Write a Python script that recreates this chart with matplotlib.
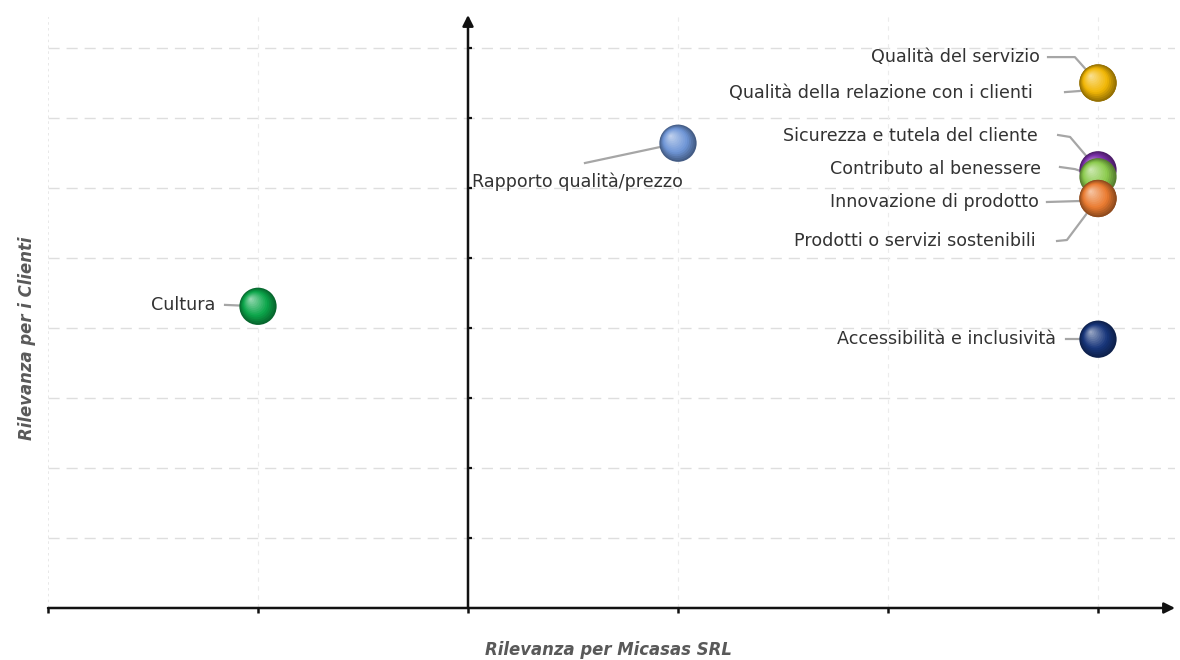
import numpy as np
import matplotlib.pyplot as plt
from matplotlib.colors import to_rgb

# topics (x = relevance for company, y = relevance for clients)
topics = ["Cultura", "Rapporto qualità/prezzo", "Sicurezza e tutela del cliente",
          "Contributo al benessere", "Prodotti o servizi sostenibili",
          "Innovazione di prodotto", "Accessibilità e inclusività",
          "Qualità della relazione con i clienti", "Qualità del servizio"]
x_vals = [1, 3, 5, 5, 5, 5, 5, 5, 5]
y_vals = [4.31, 6.64, 6.26, 6.16, 5.85, 5.85, 3.84, 7.5, 7.5]
colors = ["#0BA64A", "#6E95D6", "#7A2FA8", "#8CCB4E", "#E8782F",
          "#EA7B30", "#17357A", "#F2B705", "#F2B705"]

# label position (data coords) and leader line elbows (data coords)
label_xy = [(0.795, 4.33), (2.019, 6.09), (4.714, 6.74), (4.729, 6.27), (4.705, 5.25),
            (4.719, 5.80), (4.80, 3.84), (4.69, 7.36), (4.724, 7.87)]
label_ha = ["right", "left", "right", "right", "right", "right", "right", "right", "right"]
elbows = [[(0.843, 4.33)],
          [(2.557, 6.357)],
          [(4.810, 6.757), (4.867, 6.729)],
          [(4.819, 6.30), (4.890, 6.27)],
          [(4.805, 5.243), (4.852, 5.257)],
          [(4.757, 5.80), (4.914, 5.814)],
          [(4.848, 3.84)],
          [(4.843, 7.37), (4.914, 7.386)],
          [(4.762, 7.87), (4.890, 7.87)]]

x_max = (1175 - 48) / 210
y_max = (608 - 15) / 70

fig = plt.figure(figsize=(11.8, 6.6), dpi=100)
ax = fig.add_axes([48 / 1180, (660 - 608) / 660, (1175 - 48) / 1180, (608 - 15) / 660])
ax.set_xlim(0, x_max)
ax.set_ylim(0, y_max)
ax.axis("off")

# grid
for gy in range(1, 9):
    ax.plot([0, x_max], [gy, gy], color="#dedede", lw=1, ls=(0, (8, 5)), zorder=0)
for gx in [1, 3, 4, 5]:
    ax.plot([gx, gx], [0, y_max], color="#ececec", lw=0.8, ls=(0, (4, 4)), zorder=0)
ax.plot([0, 0], [0, 8.45], color="#e4e4e4", lw=1.2, ls=(0, (1.5, 2)), zorder=0)

# axes with arrows
ax.annotate("", xy=(x_max, 0), xytext=(0, 0),
            arrowprops=dict(arrowstyle="-|>", color="#111111", lw=1.8, mutation_scale=16,
                            shrinkA=0, shrinkB=0), annotation_clip=False)
ax.annotate("", xy=(2, y_max), xytext=(2, 0),
            arrowprops=dict(arrowstyle="-|>", color="#111111", lw=1.8, mutation_scale=16,
                            shrinkA=0, shrinkB=0), annotation_clip=False)
for gx in range(0, 6):
    ax.plot([gx, gx], [0, -0.07], color="#111111", lw=1.8, clip_on=False, solid_capstyle="butt")
for gy in range(1, 9):
    ax.plot([2, 2.02], [gy, gy], color="#111111", lw=1.6, clip_on=False, solid_capstyle="butt")

# leader lines
for (px, py), (lx, ly), elb in zip(zip(x_vals, y_vals), label_xy, elbows):
    pts = elb + [(px, py)]
    ax.plot([p[0] for p in pts], [p[1] for p in pts], color="#a6a6a6", lw=1.6, zorder=3)

# spheres: stacked circles fading to a highlight
base_s = 720
for i, (px, py, c) in enumerate(zip(x_vals, y_vals, colors)):
    rgb = np.array(to_rgb(c))
    dark = rgb * 0.62
    n = 14
    for k in range(n):
        t = k / (n - 1)
        s = base_s * (1 - 0.93 * t) ** 2
        if t < 0.35:
            col = dark + (rgb - dark) * (t / 0.35)
        else:
            col = rgb + (np.ones(3) - rgb) * ((t - 0.35) / 0.65) * 0.55
        off = 0.1 * t
        ax.scatter(px - off * 0.34, py + off * 0.99, s=s, color=col,
                   edgecolors="none", zorder=4 + i * 0.01 + k * 0.0001)

# labels
for name, (lx, ly), ha in zip(topics, label_xy, label_ha):
    ax.text(lx, ly, name, ha=ha, va="center", fontsize=12.6, color="#333333",
            family="DejaVu Sans", zorder=6)

fig.text(608 / 1180, 1 - 650 / 660, "Rilevanza per Micasas SRL", ha="center", va="center",
         fontsize=11.9, color="#595959", fontweight="bold", style="italic", family="DejaVu Sans")
fig.text(27 / 1180, 1 - 338 / 660, "Rilevanza per i Clienti", ha="center", va="center",
         rotation=90, fontsize=11.9, color="#595959", fontweight="bold", style="italic",
         family="DejaVu Sans")

fig.savefig("out.png", dpi=100, facecolor="white")
